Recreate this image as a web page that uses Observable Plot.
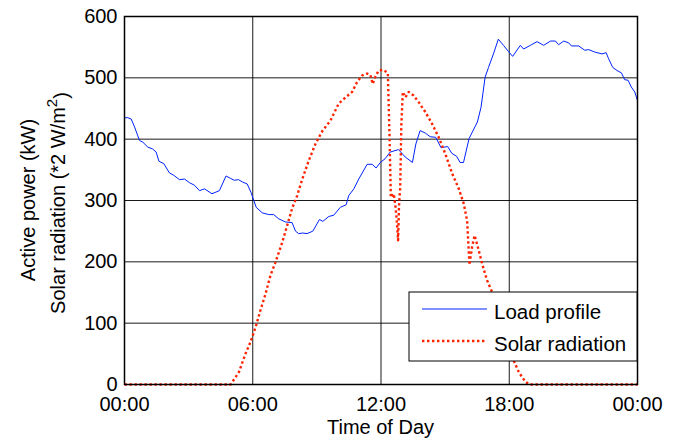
<!DOCTYPE html>
<html>
<head>
<meta charset="utf-8">
<script src="https://cdn.jsdelivr.net/npm/d3@7"></script>
<script src="https://cdn.jsdelivr.net/npm/@observablehq/plot@0.6"></script>
<style>
  body { margin: 0; background: #fff; }
  svg { display: block; }
</style>
</head>
<body>
<div id="chart"></div>
<script>
// Daily load profile (kW), sampled over the day (hours since midnight)
const loadHours = [0.0, 0.15, 0.31, 0.47, 0.70, 0.86, 1.09, 1.32, 1.48, 1.61, 1.84, 2.10, 2.31, 2.57, 2.81, 3.04, 3.27, 3.51, 3.74, 4.09, 4.44, 4.75, 4.96, 5.14, 5.33, 5.53, 5.74, 5.92, 6.05, 6.16, 6.44, 6.75, 6.98, 7.22, 7.53, 7.84, 8.00, 8.15, 8.34, 8.54, 8.81, 9.12, 9.28, 9.56, 9.79, 10.10, 10.37, 10.49, 10.73, 10.96, 11.35, 11.59, 11.77, 11.97, 12.19, 12.43, 12.82, 13.13, 13.47, 13.63, 13.83, 14.07, 14.30, 14.56, 14.81, 15.12, 15.31, 15.54, 15.70, 15.86, 16.12, 16.51, 16.68, 16.87, 17.03, 17.26, 17.49, 17.73, 17.96, 18.16, 18.52, 18.67, 18.99, 19.30, 19.61, 19.93, 20.16, 20.31, 20.55, 20.78, 20.91, 21.25, 21.53, 21.72, 22.00, 22.34, 22.53, 22.65, 22.84, 23.04, 23.25, 23.40, 23.56, 23.71, 23.87, 24.00];
const loadKW = [435, 435, 433, 420, 398, 395, 387, 384, 379, 364, 360, 345, 341, 334, 335, 329, 325, 316, 319, 311, 316, 340, 336, 333, 334, 330, 327, 313, 300, 289, 280, 277, 277, 270, 265, 264, 250, 246, 247, 246, 250, 269, 266, 274, 276, 289, 293, 308, 319, 335, 359, 359, 353, 362, 368, 379, 383, 371, 362, 392, 414, 410, 404, 403, 386, 388, 377, 372, 362, 362, 401, 428, 452, 501, 517, 539, 563, 553, 543, 535, 553, 547, 553, 559, 553, 560, 560, 554, 560, 557, 552, 552, 545, 546, 542, 539, 541, 531, 517, 512, 508, 497, 496, 485, 477, 463];

// Solar radiation (in units of 2 W/m²) over the same day
const solarHours = [0.0, 4.96, 5.04, 5.35, 5.66, 5.89, 6.13, 6.36, 6.60, 6.83, 7.06, 7.38, 7.61, 7.84, 8.08, 8.31, 8.62, 8.93, 9.25, 9.63, 10.02, 10.34, 10.65, 10.88, 11.12, 11.35, 11.50, 11.61, 11.74, 11.89, 12.11, 12.32, 12.40, 12.46, 12.60, 12.68, 12.75, 12.80, 12.84, 12.90, 12.95, 13.02, 13.14, 13.30, 13.53, 13.77, 14.08, 14.39, 14.70, 15.01, 15.33, 15.64, 15.87, 16.03, 16.14, 16.26, 16.38, 16.57, 16.73, 16.96, 17.17, 17.45, 17.75, 18.00, 18.21, 18.45, 18.76, 18.99, 24.0];
const solarRad = [0, 0, 4, 20, 50, 69, 93, 121, 148, 178, 199, 232, 259, 287, 308, 334, 365, 392, 413, 430, 458, 468, 477, 493, 504, 507, 505, 490, 502, 512, 513, 508, 403, 305, 311, 289, 262, 235, 289, 322, 420, 477, 468, 477, 471, 460, 444, 425, 403, 376, 344, 319, 295, 267, 195, 224, 243, 219, 197, 170, 153, 120, 85, 57, 39, 20, 4, 0, 0];

const xTicks = [0, 6, 12, 18, 24];
const xTickLabels = ["00:00", "06:00", "12:00", "18:00", "00:00"];
const yTicks = [0, 100, 200, 300, 400, 500, 600];
const seriesNames = ["Load profile", "Solar radiation"];
const xTitle = "Time of Day";
const yTitleTop = "Active power (kW)";
const yTitleBottom = "Solar radiation (*2 W/m";

const load = loadHours.map((h, i) => ({h, v: loadKW[i]}));
const solar = solarHours.map((h, i) => ({h, v: solarRad[i]}));

const blue = "#0022ff";
const red = "#ff2200";
const dash = "2.4,2.6";
const font = "'Liberation Sans', Arial, Helvetica, sans-serif";

const chart = Plot.plot({
  width: 677,
  height: 443,
  marginLeft: 124,
  marginRight: 40,
  marginTop: 16,
  marginBottom: 59,
  style: {fontFamily: font, fontSize: "20px", color: "#000", background: "#fff"},
  x: {domain: [0, 24]},
  y: {domain: [0, 600]},
  marks: [
    Plot.gridX(xTicks.slice(1, -1), {stroke: "#000", strokeOpacity: 0.9, strokeWidth: 1}),
    Plot.gridY(yTicks.slice(1, -1), {stroke: "#000", strokeOpacity: 0.9, strokeWidth: 1}),
    Plot.line(load, {x: "h", y: "v", stroke: blue, strokeWidth: 1}),
    Plot.line(solar, {x: "h", y: "v", stroke: red, strokeWidth: 2.4, strokeDasharray: dash, strokeLinecap: "butt"}),
    Plot.axisX(xTicks, {tickSize: 0, tickPadding: 12, label: null,
      tickFormat: d => xTickLabels[xTicks.indexOf(d)]}),
    Plot.axisY(yTicks, {tickSize: 0, tickPadding: 7, label: null}),
    Plot.frame({stroke: "#000", strokeWidth: 1.5})
  ]
});

document.getElementById("chart").append(chart);

// Axis titles
const svg = d3.select(chart);
const x0 = 124, x1 = 637, y0 = 16, y1 = 384;
const cx = (x0 + x1) / 2, cy = (y0 + y1) / 2;

svg.append("text")
  .attr("x", cx).attr("y", 434)
  .attr("text-anchor", "middle")
  .style("font-family", font).style("font-size", "20px")
  .text(xTitle);

svg.append("text")
  .attr("transform", `translate(28,${cy}) rotate(-90)`)
  .attr("text-anchor", "middle").attr("dy", "0.35em")
  .style("font-family", font).style("font-size", "20px")
  .text(yTitleTop);

const t2 = svg.append("text")
  .attr("transform", `translate(58,${cy + 3}) rotate(-90)`)
  .attr("text-anchor", "middle").attr("dy", "0.35em")
  .style("font-family", font).style("font-size", "20px");
t2.append("tspan").text(yTitleBottom);
t2.append("tspan").attr("dy", "-0.55em").style("font-size", "15px").text("2");
t2.append("tspan").attr("dy", "0.55em").text(")");

// Legend box, anchored at the lower right of the plot area
const lg = svg.append("g").attr("transform", `translate(${x1 - 228},292)`);
lg.append("rect").attr("width", 228).attr("height", 69)
  .attr("fill", "#fff").attr("stroke", "#000").attr("stroke-width", 1);
const rows = [
  {name: seriesNames[0], color: blue, width: 1, dash: null},
  {name: seriesNames[1], color: red, width: 2.4, dash: dash}
];
rows.forEach((r, i) => {
  const yy = 17 + i * 32;
  lg.append("line").attr("x1", 13).attr("x2", 78).attr("y1", yy).attr("y2", yy)
    .attr("stroke", r.color).attr("stroke-width", r.width)
    .attr("stroke-dasharray", r.dash);
  lg.append("text").attr("x", 85).attr("y", yy + 10)
    .attr("text-anchor", "start")
    .style("font-family", font).style("font-size", "20.5px")
    .text(r.name);
});
</script>
</body>
</html>
